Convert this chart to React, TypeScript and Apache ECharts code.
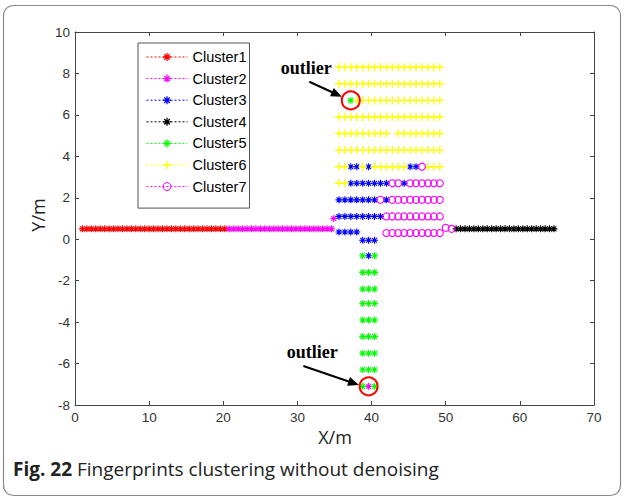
import React, { useEffect, useRef } from "react";
import * as echarts from "echarts";

type Row = [number, number[]];

// ---- axes ----
const xMin = 0;
const xMax = 70;
const xStep = 10;
const yMin = -8;
const yMax = 10;
const yStep = 2;

// ---- legend / clusters ----
const clusterNames = ["Cluster1", "Cluster2", "Cluster3", "Cluster4", "Cluster5", "Cluster6", "Cluster7"];
const clusterColors = ["#ff0000", "#ff00ff", "#0000ff", "#000000", "#00ff00", "#ffff00", "#ff00ff"];

// each row: [y, list of x]
const cluster1Rows: Row[] = [
  [0.5, [1.0, 1.6, 2.2, 2.8, 3.4, 4.0, 4.6, 5.2, 5.8, 6.4, 7.0, 7.6, 8.2, 8.8, 9.4, 10.0, 10.6, 11.2, 11.8, 12.4, 13.0, 13.6, 14.2, 14.8, 15.4, 16.0, 16.6, 17.2, 17.8, 18.4, 19.0, 19.6, 20.2]],
];
const cluster2Rows: Row[] = [
  [0.5, [20.8, 21.4, 22.0, 22.6, 23.2, 23.8, 24.4, 25.0, 25.6, 26.2, 26.8, 27.4, 28.0, 28.6, 29.2, 29.8, 30.4, 31.0, 31.6, 32.2, 32.8, 33.4, 34.0, 34.6]],
  [1.0, [34.9]],
  [-7.1, [39.6]],
];
const cluster3Rows: Row[] = [
  [3.5, [37.2, 38.0, 39.6, 45.2, 46.0]],
  [2.7, [37.2, 38.0, 38.8, 39.6, 40.4, 41.2, 42.0, 44.4]],
  [1.9, [35.6, 36.4, 37.2, 38.0, 38.8, 39.6, 40.4, 42.0]],
  [1.1, [35.6, 36.4, 37.2, 38.0, 38.8, 39.6, 40.4, 41.2]],
  [0.35, [35.6, 36.4, 37.2, 38.0]],
  [-0.05, [38.8, 39.6, 40.4]],
  [-0.8, [39.6]],
];
const cluster4Rows: Row[] = [
  [0.5, [51.4, 52.0, 52.6, 53.2, 53.8, 54.4, 55.0, 55.6, 56.2, 56.8, 57.4, 58.0, 58.6, 59.2, 59.8, 60.4, 61.0, 61.6, 62.2, 62.8, 63.4, 64.0, 64.6]],
];
const cluster5Rows: Row[] = [
  [6.7, [37.2]],
  [-0.8, [38.8, 40.4]],
  [-1.6, [38.8, 39.6, 40.4]],
  [-2.4, [38.8, 39.6, 40.4]],
  [-3.1, [38.8, 39.6, 40.4]],
  [-3.9, [38.8, 39.6, 40.4]],
  [-4.7, [38.8, 39.6, 40.4]],
  [-5.5, [38.8, 39.6, 40.4]],
  [-6.3, [38.8, 39.6, 40.4]],
  [-7.1, [38.8, 40.4]],
];
const cluster6Rows: Row[] = [
  [8.3, [35.6, 36.4, 37.2, 38.0, 38.8, 39.6, 40.4, 41.2, 42.0, 42.8, 43.6, 44.4, 45.2, 46.0, 46.8, 47.6, 48.4, 49.2]],
  [7.5, [35.6, 36.4, 37.2, 38.0, 38.8, 39.6, 40.4, 41.2, 42.0, 42.8, 43.6, 44.4, 45.2, 46.0, 46.8, 47.6, 48.4, 49.2]],
  [6.7, [38.0, 38.8, 39.6, 40.4, 41.2, 42.0, 42.8, 43.6, 44.4, 45.2, 46.0, 46.8, 47.6, 48.4, 49.2]],
  [5.9, [35.6, 36.4, 37.2, 38.0, 38.8, 39.6, 40.4, 41.2, 42.0, 42.8, 43.6, 44.4, 45.2, 46.0, 46.8, 47.6, 48.4, 49.2]],
  [5.1, [35.6, 36.4, 37.2, 38.0, 38.8, 39.6, 40.4, 41.2, 42.0, 43.6, 44.4, 45.2, 46.0, 46.8, 47.6, 48.4, 49.2]],
  [4.3, [35.6, 36.4, 37.2, 38.0, 38.8, 39.6, 40.4, 41.2, 42.0, 42.8, 43.6, 44.4, 45.2, 46.0, 46.8, 47.6, 48.4, 49.2]],
  [3.5, [35.6, 36.4, 38.8, 40.4, 41.2, 42.0, 42.8, 43.6, 44.4, 47.6, 48.4, 49.2]],
  [2.7, [35.6, 36.4]],
];
const cluster7Rows: Row[] = [
  [3.5, [46.8]],
  [2.7, [42.8, 43.6, 45.2, 46.0, 46.8, 47.6, 48.4, 49.2]],
  [1.9, [41.2, 42.8, 43.6, 44.4, 45.2, 46.0, 46.8, 47.6, 48.4, 49.2]],
  [1.1, [42.0, 42.8, 43.6, 44.4, 45.2, 46.0, 46.8, 47.6, 48.4, 49.2]],
  [0.3, [42.0, 42.8, 43.6, 44.4, 45.2, 46.0, 46.8, 47.6, 48.4, 49.2]],
  [0.55, [50.0]],
  [0.5, [50.8]],
];
const clusterRows = [cluster1Rows, cluster2Rows, cluster3Rows, cluster4Rows, cluster5Rows, cluster6Rows, cluster7Rows];

// annotation anchors (data coordinates)
const outlierLabels = [
  { text: [31.2, 8.25], from: [31.6, 7.6], to: [36.0, 6.88], circle: [37.2, 6.7] },
  { text: [32.0, -5.45], from: [30.8, -6.12], to: [38.3, -7.03], circle: [39.6, -7.1] },
];

const STAR =
  "path://M4.2,0H5.8V4.2H10V5.8H5.8V10H4.2V5.8H0V4.2H4.2Z M1,2.1L2.1,1L9,7.9L7.9,9Z M7.9,1L9,2.1L2.1,9L1,7.9Z";
const PLUS = "path://M4.1,0H5.9V4.1H10V5.9H5.9V10H4.1V5.9H0V4.1H4.1Z";
const clusterSymbols = [STAR, STAR, STAR, STAR, STAR, PLUS, "circle"];
const clusterSizes = [7, 7, 7, 7, 7, 8, 7];

const toPoints = (rows: Row[]) => rows.flatMap(([y, xs]) => xs.map((x) => [x, y]));

const AXIS_FONT = "'Liberation Sans', Arial, sans-serif";
const CAP_FONT = "'Open Sans', 'Noto Sans', sans-serif";

export default function App() {
  const ref = useRef<HTMLDivElement>(null);
  useEffect(() => {
    if (!ref.current) return;
    const chart = echarts.init(ref.current, null, { renderer: "svg" });
    const axisCommon = {
      type: "value" as const,
      axisLine: { show: true, onZero: false, lineStyle: { color: "#444", width: 1 } },
      axisTick: { show: true, inside: true, length: 4, lineStyle: { color: "#444" } },
      splitLine: { show: false },
    };
    const series = clusterNames.map((name, i) => ({
      type: "line",
      name,
      data: toPoints(clusterRows[i]),
      symbol: clusterSymbols[i],
      symbolSize: clusterSizes[i],
      showSymbol: true,
      showAllSymbol: true,
      silent: true,
      xAxisIndex: 0,
      yAxisIndex: 0,
      z: 2 + i,
      lineStyle: { color: clusterColors[i], width: 1, type: [2, 2], opacity: 0 },
      itemStyle:
        i === 6
          ? { color: "rgba(0,0,0,0)", borderColor: clusterColors[i], borderWidth: 1.1 }
          : { color: clusterColors[i] },
      emphasis: { disabled: true },
    }));
    chart.setOption({
      animation: false,
      backgroundColor: "#fff",
      grid: { left: 75, right: 30, top: 32, bottom: 94, containLabel: false },
      xAxis: [
        {
          ...axisCommon,
          min: xMin,
          max: xMax,
          interval: xStep,
          position: "bottom",
          axisLabel: { margin: 5, fontSize: 13.5, color: "#333", fontFamily: AXIS_FONT },
        },
        {
          ...axisCommon,
          min: xMin,
          max: xMax,
          interval: xStep,
          position: "top",
          axisLabel: { show: false },
        },
      ],
      yAxis: [
        {
          ...axisCommon,
          min: yMin,
          max: yMax,
          interval: yStep,
          position: "left",
          axisLabel: { margin: 5, fontSize: 13.5, color: "#333", fontFamily: AXIS_FONT },
        },
        {
          ...axisCommon,
          min: yMin,
          max: yMax,
          interval: yStep,
          position: "right",
          axisLabel: { show: false },
        },
      ],
      legend: {
        orient: "vertical",
        left: 138,
        top: 43,
        itemWidth: 41,
        itemHeight: 10,
        itemGap: 6.6,
        padding: [6.5, 3, 14, 8],
        borderColor: "#555",
        borderWidth: 1,
        backgroundColor: "#fff",
        selectedMode: false,
        textStyle: { fontFamily: AXIS_FONT, fontSize: 14.5, color: "#000" },
        lineStyle: { opacity: 1, width: 1, type: [2, 2] },
        data: clusterNames.map((n, i) => (i === 6 ? { name: n, itemStyle: { borderWidth: 1 } } : { name: n })),
      },
      series,
    });

    const px = (p: number[]) => chart.convertToPixel({ seriesIndex: 0 }, p) as number[];
    const elements: any[] = [
      {
        type: "rect",
        shape: { x: 3.5, y: 5.5, width: 617, height: 490, r: 10 },
        style: { fill: "none", stroke: "#8a8a8a", lineWidth: 1.2 },
        z: 0,
        silent: true,
      },
      {
        type: "text",
        x: 13,
        y: 469,
        style: {
          text: "{b|Fig. 22} Fingerprints clustering without denoising",
          fill: "#222",
          fontFamily: CAP_FONT,
          fontSize: 19,
          verticalAlign: "middle",
          textVerticalAlign: "middle",
          rich: { b: { fontWeight: "bold", fontFamily: CAP_FONT, fontSize: 19, fill: "#222" } },
        },
      },
      {
        type: "text",
        x: 335,
        y: 437,
        style: {
          text: "X/m",
          fill: "#222",
          fontFamily: CAP_FONT,
          fontSize: 18,
          align: "center",
          textAlign: "center",
          verticalAlign: "middle",
          textVerticalAlign: "middle",
        },
      },
      {
        type: "text",
        x: 38,
        y: 215,
        rotation: Math.PI / 2,
        style: {
          text: "Y/m",
          fill: "#222",
          fontFamily: CAP_FONT,
          fontSize: 18,
          align: "center",
          textAlign: "center",
          verticalAlign: "middle",
          textVerticalAlign: "middle",
        },
      },
    ];
    outlierLabels.forEach((a) => {
      const t = px(a.text);
      const f = px(a.from);
      const e = px(a.to);
      const c = px(a.circle);
      const dx = e[0] - f[0];
      const dy = e[1] - f[1];
      const len = Math.hypot(dx, dy);
      const ux = dx / len;
      const uy = dy / len;
      const hl = 11;
      const hw = 4.5;
      const bx = e[0] - ux * hl;
      const by = e[1] - uy * hl;
      elements.push(
        {
          type: "text",
          x: t[0],
          y: t[1],
          style: {
            text: "outlier",
            fill: "#000",
            fontFamily: "'Liberation Serif', 'Times New Roman', serif",
            fontWeight: "bold",
            fontSize: 18,
            align: "center",
            textAlign: "center",
            verticalAlign: "middle",
            textVerticalAlign: "middle",
          },
          z: 100,
        },
        {
          type: "line",
          shape: { x1: f[0], y1: f[1], x2: bx + ux * 1, y2: by + uy * 1 },
          style: { stroke: "#000", lineWidth: 2 },
          z: 100,
        },
        {
          type: "polygon",
          shape: {
            points: [
              [e[0], e[1]],
              [bx - uy * hw, by + ux * hw],
              [bx + uy * hw, by - ux * hw],
            ],
          },
          style: { fill: "#000" },
          z: 100,
        },
        {
          type: "circle",
          shape: { cx: c[0], cy: c[1], r: 9 },
          style: { fill: "none", stroke: "#ff0000", lineWidth: 2 },
          z: 100,
        }
      );
    });
    chart.setOption({ graphic: { elements } });
    return () => chart.dispose();
  }, []);
  return (
    <div
      ref={ref}
      style={{ position: "absolute", left: 0, top: 0, width: 624, height: 499, background: "#fff" }}
    />
  );
}
